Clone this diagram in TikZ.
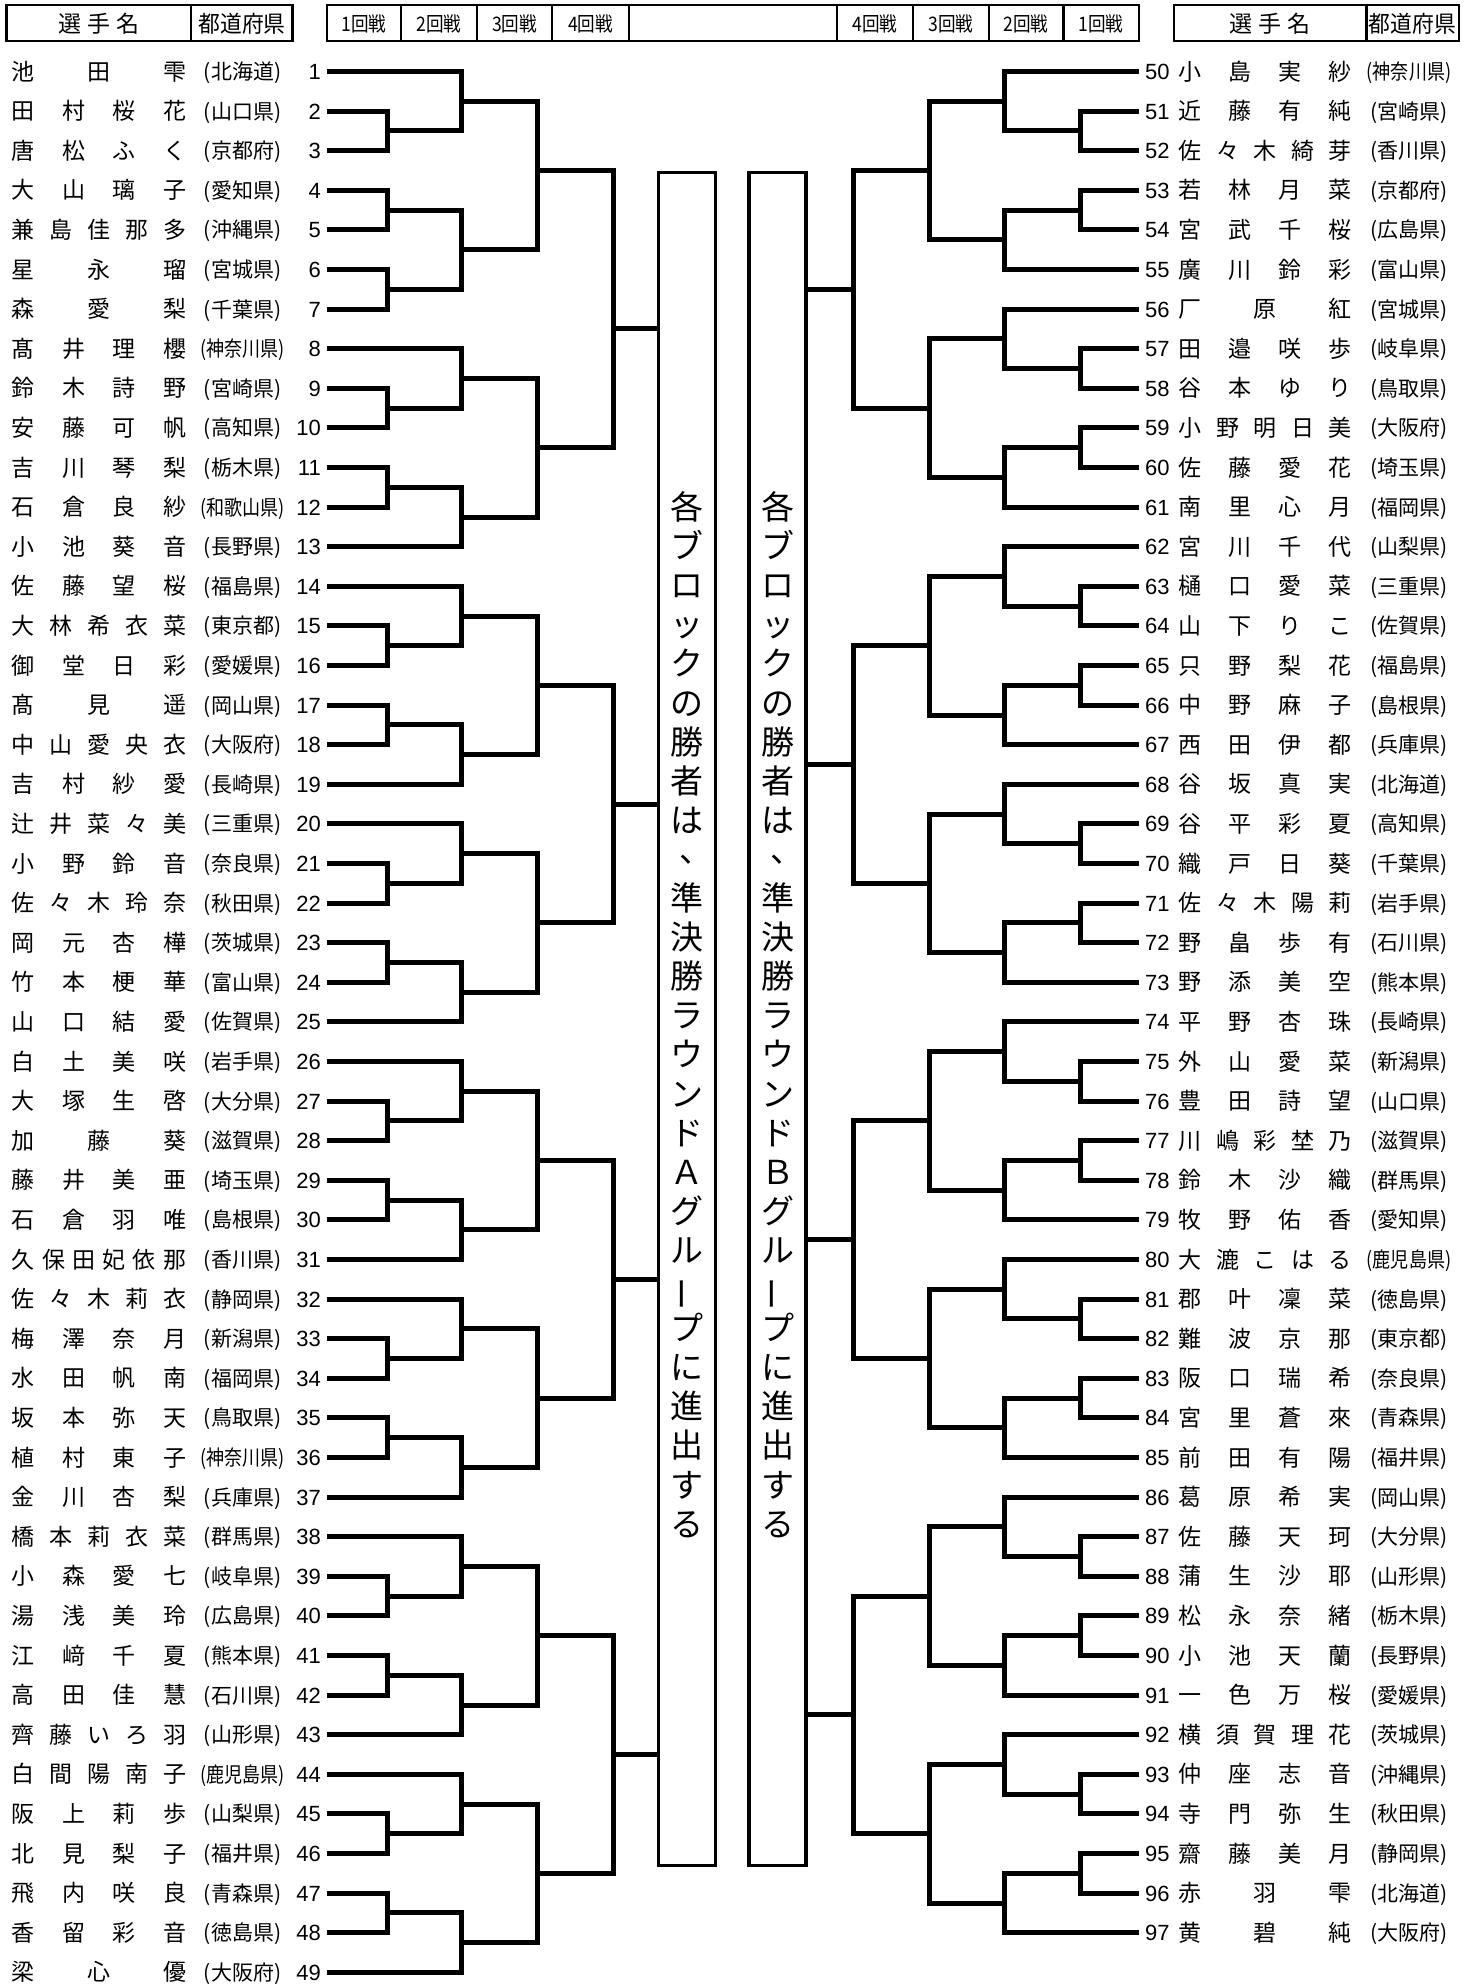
\documentclass[tikz,border=0pt]{standalone}
\usepackage{fontspec}
\setmainfont{Noto Sans CJK JP}
\newfontfamily\numfont{Liberation Sans}

% centre of a row, rows counted from the top
\newcommand\ry[1]{71.5+39.6*(#1)}
% letters of a name spread evenly between two centres
\newcommand\spreadname[4]{%
  \foreach \ch [count=\k] in #4 {\xdef\nchars{\k}}%
  \foreach \ch [count=\k] in #4 {%
    \node[namechar] at ({#1+(\k-1)*(#2-#1)/(\nchars-1)},{#3}) {\ch};}%
}
\newcommand\wide[1]{\scalebox{0.86}[1]{(#1)}}
\newcommand\narrow[1]{\scalebox{0.88}[1]{#1}}
\newcommand\ten{\hspace*{18pt}\raisebox{9pt}{、}}
\newcommand\cho{\rotatebox[origin=c]{90}{ー}}

\begin{document}
\begin{tikzpicture}[x=1pt, y=-1pt,
    bracket/.style={line width=5pt},
    headline/.style={line width=2.5pt},
    blockbox/.style={draw, line width=3.5pt, minimum width=57pt, minimum height=1693pt, inner sep=0pt},
    namechar/.style={anchor=base, inner sep=0pt, font=\fontsize{23}{23}\selectfont},
    numtext/.style={inner sep=0pt, font=\numfont\fontsize{22}{22}\selectfont},
    preftext/.style={anchor=base, inner sep=0pt, font=\fontsize{21}{21}\selectfont},
    headtext/.style={anchor=base, inner sep=0pt, font=\fontsize{23}{23}\selectfont},
    roundtext/.style={anchor=base, inner sep=0pt, font=\fontsize{20}{20}\selectfont},
    vtext/.style={anchor=base, inner sep=0pt, font=\fontsize{33}{33}\selectfont}]
    \useasboundingbox (0,0) rectangle (1472,1987);

    % header boxes
    \draw[headline] (6.5,5) rectangle (292.5,41);
    \draw[headline] (191,5) -- (191,41);
    \draw[headline] (327,5) rectangle (1139,41);
    \foreach \xd in {401,477,552,629,837,913,989,1063.5}
        \draw[headline] (\xd,5) -- (\xd,41);
    \draw[headline] (1174,5) rectangle (1459,41);
    \draw[headline] (1366.5,5) -- (1366.5,41);
    \foreach \xh/\lab in {99/L, 1270/R} {
        \node[headtext] (hname\lab) at (\xh,32) {選\hspace{6pt}手\hspace{6pt}名};
    }
    \node[headtext] (hprefL) at (242,32) {\scalebox{0.95}[1]{都道府県}};
    \node[headtext] (hprefR) at (1412.5,32) {\scalebox{0.95}[1]{都道府県}};
    \foreach \xh/\lab in {364/1,439/2,514.5/3,590.5/4,875/4,951/3,1026/2,1101/1}
        \node[roundtext] (hr\xh) at (\xh,31) {\narrow{\lab 回戦}};

    % left players
    \foreach \n/\nm/\pf in {1/{池,田,雫}/(北海道), 2/{田,村,桜,花}/(山口県), 3/{唐,松,ふ,く}/(京都府),
        4/{大,山,璃,子}/(愛知県), 5/{兼,島,佳,那,多}/(沖縄県), 6/{星,永,瑠}/(宮城県),
        7/{森,愛,梨}/(千葉県), 8/{髙,井,理,櫻}/\wide{神奈川県}, 9/{鈴,木,詩,野}/(宮崎県),
        10/{安,藤,可,帆}/(高知県), 11/{吉,川,琴,梨}/(栃木県), 12/{石,倉,良,紗}/\wide{和歌山県},
        13/{小,池,葵,音}/(長野県), 14/{佐,藤,望,桜}/(福島県), 15/{大,林,希,衣,菜}/(東京都),
        16/{御,堂,日,彩}/(愛媛県), 17/{髙,見,遥}/(岡山県), 18/{中,山,愛,央,衣}/(大阪府),
        19/{吉,村,紗,愛}/(長崎県), 20/{辻,井,菜,々,美}/(三重県), 21/{小,野,鈴,音}/(奈良県),
        22/{佐,々,木,玲,奈}/(秋田県), 23/{岡,元,杏,樺}/(茨城県), 24/{竹,本,梗,華}/(富山県),
        25/{山,口,結,愛}/(佐賀県), 26/{白,土,美,咲}/(岩手県), 27/{大,塚,生,啓}/(大分県),
        28/{加,藤,葵}/(滋賀県), 29/{藤,井,美,亜}/(埼玉県), 30/{石,倉,羽,唯}/(島根県),
        31/{久,保,田,妃,依,那}/(香川県), 32/{佐,々,木,莉,衣}/(静岡県), 33/{梅,澤,奈,月}/(新潟県),
        34/{水,田,帆,南}/(福岡県), 35/{坂,本,弥,天}/(鳥取県), 36/{植,村,東,子}/\wide{神奈川県},
        37/{金,川,杏,梨}/(兵庫県), 38/{橋,本,莉,衣,菜}/(群馬県), 39/{小,森,愛,七}/(岐阜県),
        40/{湯,浅,美,玲}/(広島県), 41/{江,﨑,千,夏}/(熊本県), 42/{高,田,佳,慧}/(石川県),
        43/{齊,藤,い,ろ,羽}/(山形県), 44/{白,間,陽,南,子}/\wide{鹿児島県}, 45/{阪,上,莉,歩}/(山梨県),
        46/{北,見,梨,子}/(福井県), 47/{飛,内,咲,良}/(青森県), 48/{香,留,彩,音}/(徳島県),
        49/{梁,心,優}/(大阪府)} {
        \node[numtext, anchor=base east] (n\n) at (321,{\ry{\n-1}+7.9}) {\n};
        \spreadname{23.5}{174.5}{\ry{\n-1}+8.5}{\nm}
        \node[preftext] (p\n) at (242.5,{\ry{\n-1}+8}) {\pf};
        \coordinate (L\n) at (327,{\ry{\n-1}});
    }

    % right players
    \foreach \n/\nm/\pf in {50/{小,島,実,紗}/\wide{神奈川県}, 51/{近,藤,有,純}/(宮崎県), 52/{佐,々,木,綺,芽}/(香川県),
        53/{若,林,月,菜}/(京都府), 54/{宮,武,千,桜}/(広島県), 55/{廣,川,鈴,彩}/(富山県),
        56/{厂,原,紅}/(宮城県), 57/{田,邉,咲,歩}/(岐阜県), 58/{谷,本,ゆ,り}/(鳥取県),
        59/{小,野,明,日,美}/(大阪府), 60/{佐,藤,愛,花}/(埼玉県), 61/{南,里,心,月}/(福岡県),
        62/{宮,川,千,代}/(山梨県), 63/{樋,口,愛,菜}/(三重県), 64/{山,下,り,こ}/(佐賀県),
        65/{只,野,梨,花}/(福島県), 66/{中,野,麻,子}/(島根県), 67/{西,田,伊,都}/(兵庫県),
        68/{谷,坂,真,実}/(北海道), 69/{谷,平,彩,夏}/(高知県), 70/{織,戸,日,葵}/(千葉県),
        71/{佐,々,木,陽,莉}/(岩手県), 72/{野,畠,歩,有}/(石川県), 73/{野,添,美,空}/(熊本県),
        74/{平,野,杏,珠}/(長崎県), 75/{外,山,愛,菜}/(新潟県), 76/{豊,田,詩,望}/(山口県),
        77/{川,嶋,彩,埜,乃}/(滋賀県), 78/{鈴,木,沙,織}/(群馬県), 79/{牧,野,佑,香}/(愛知県),
        80/{大,漉,こ,は,る}/\wide{鹿児島県}, 81/{郡,叶,凜,菜}/(徳島県), 82/{難,波,京,那}/(東京都),
        83/{阪,口,瑞,希}/(奈良県), 84/{宮,里,蒼,來}/(青森県), 85/{前,田,有,陽}/(福井県),
        86/{葛,原,希,実}/(岡山県), 87/{佐,藤,天,珂}/(大分県), 88/{蒲,生,沙,耶}/(山形県),
        89/{松,永,奈,緒}/(栃木県), 90/{小,池,天,蘭}/(長野県), 91/{一,色,万,桜}/(愛媛県),
        92/{横,須,賀,理,花}/(茨城県), 93/{仲,座,志,音}/(沖縄県), 94/{寺,門,弥,生}/(秋田県),
        95/{齋,藤,美,月}/(静岡県), 96/{赤,羽,雫}/(北海道), 97/{黄,碧,純}/(大阪府)} {
        \node[numtext, anchor=base west] (n\n) at (1145,{\ry{\n-50}+7.9}) {\n};
        \spreadname{1190}{1340}{\ry{\n-50}+8.5}{\nm}
        \node[preftext] (p\n) at (1409,{\ry{\n-50}+8}) {\pf};
        \coordinate (R\n) at (1139,{\ry{\n-50}});
    }

    % boxes in the middle
    \node[blockbox] (boxA) at (687,1018.75) {};
    \node[blockbox] (boxB) at (777.5,1018.75) {};
    \foreach \bx/\gl in {687/Ａ, 777.5/Ｂ}
        \foreach \ch [count=\k from 0] in {各,ブ,ロ,ッ,ク,の,勝,者,は,\ten,準,決,勝,ラ,ウ,ン,ド,\gl,グ,ル,\cho,プ,に,進,出,す,る}
            \node[vtext] at (\bx,{507+39.1*\k+12.5}) {\ch};

    % left bracket, first block of seven
    \draw[bracket] (L2) -| (387,{\ry{2}}) -- (L3);
    \draw[bracket] (L4) -| (387,{\ry{4}}) -- (L5);
    \draw[bracket] (L6) -| (387,{\ry{6}}) -- (L7);
    \draw[bracket] (L1) -| (461,{\ry{1.5}}) -- (387,{\ry{1.5}});
    \draw[bracket] (387,{\ry{3.5}}) -| (461,{\ry{5.5}}) -- (387,{\ry{5.5}});
    \draw[bracket] (461,{\ry{0.75}}) -| (537,{\ry{4.5}}) -- (461,{\ry{4.5}});
    \coordinate (LB1) at (537,{\ry{2.5}});
    % left bracket, blocks of six
    \foreach \a in {8,14,20,26,32,38,44} {
        \pgfmathtruncatemacro\qb{\a+1}
        \pgfmathtruncatemacro\qc{\a+2}
        \pgfmathtruncatemacro\qd{\a+3}
        \pgfmathtruncatemacro\qe{\a+4}
        \pgfmathtruncatemacro\qf{\a+5}
        \pgfmathsetmacro\rw{\a-1}
        \draw[bracket] (L\qb) -| (387,{\ry{\rw+2}}) -- (L\qc);
        \draw[bracket] (L\qd) -| (387,{\ry{\rw+4}}) -- (L\qe);
        \draw[bracket] (L\a) -| (461,{\ry{\rw+1.5}}) -- (387,{\ry{\rw+1.5}});
        \draw[bracket] (L\qf) -| (461,{\ry{\rw+3.5}}) -- (387,{\ry{\rw+3.5}});
        \draw[bracket] (461,{\ry{\rw+0.75}}) -| (537,{\ry{\rw+4.25}}) -- (461,{\ry{\rw+4.25}});
        \coordinate (LB\a) at (537,{\ry{\rw+2.5}});
    }
    \foreach \ga/\gb/\gm in {1/8/6.5, 14/20/18.5, 26/32/30.5, 38/44/42.5} {
        \draw[bracket] (LB\ga) -| ([xshift=76]LB\gb) -- (LB\gb);
        \coordinate (LW\ga) at (613,{\ry{\gm}});
        \draw[bracket] (LW\ga) -- (LW\ga -| boxA.west);
    }

    % right bracket, blocks of six
    \foreach \a in {50,56,62,68,74,80,86,92} {
        \pgfmathtruncatemacro\qb{\a+1}
        \pgfmathtruncatemacro\qc{\a+2}
        \pgfmathtruncatemacro\qd{\a+3}
        \pgfmathtruncatemacro\qe{\a+4}
        \pgfmathtruncatemacro\qf{\a+5}
        \pgfmathsetmacro\rw{\a-50}
        \draw[bracket] (R\qb) -| (1080,{\ry{\rw+2}}) -- (R\qc);
        \draw[bracket] (R\qd) -| (1080,{\ry{\rw+4}}) -- (R\qe);
        \draw[bracket] (R\a) -| (1004,{\ry{\rw+1.5}}) -- (1080,{\ry{\rw+1.5}});
        \draw[bracket] (R\qf) -| (1004,{\ry{\rw+3.5}}) -- (1080,{\ry{\rw+3.5}});
        \draw[bracket] (1004,{\ry{\rw+0.75}}) -| (929,{\ry{\rw+4.25}}) -- (1004,{\ry{\rw+4.25}});
        \coordinate (RB\a) at (929,{\ry{\rw+2.5}});
    }
    \foreach \ga/\gb/\gm in {50/56/5.5, 62/68/17.5, 74/80/29.5, 86/92/41.5} {
        \draw[bracket] (RB\ga) -| ([xshift=-75.5]RB\gb) -- (RB\gb);
        \coordinate (RW\ga) at (853.5,{\ry{\gm}});
        \draw[bracket] (RW\ga) -- (RW\ga -| boxB.east);
    }
\end{tikzpicture}
\end{document}
